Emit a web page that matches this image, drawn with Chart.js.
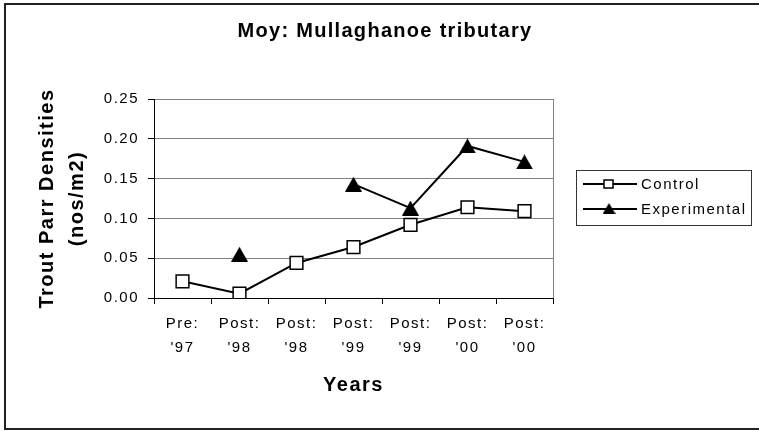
<!doctype html>
<html lang="en">
<head>
  <meta charset="utf-8" />
  <title>Moy: Mullaghanoe tributary</title>
  <script src="https://cdn.jsdelivr.net/npm/chart.js@4.4.3/dist/chart.umd.min.js"></script>
  <style>
    html, body {
      margin: 0;
      padding: 0;
      background: #fff;
    }
    #wrap {
      width: 759px;
      height: 431px;
    }
  </style>
</head>
<body>
  <div id="wrap"><canvas id="chart" width="759" height="431"></canvas></div>
  <script>
    const chartTitle = "Moy: Mullaghanoe tributary";
    const yTitle = ["Trout Parr Densities", "(nos/m2)"];
    const xTitle = "Years";
    const categories = [
      ["Pre:", "'97"],
      ["Post:", "'98"],
      ["Post:", "'98"],
      ["Post:", "'99"],
      ["Post:", "'99"],
      ["Post:", "'00"],
      ["Post:", "'00"],
    ];
    const seriesNames = ["Control", "Experimental"];
    const control = [0.021, 0.0055, 0.044, 0.064, 0.092, 0.114, 0.109];
    const experimental = [null, 0.055, null, 0.143, 0.113, 0.191, 0.171];
    const yMin = 0;
    const yMax = 0.25;
    const yStep = 0.05;

    const FONT = "'Liberation Sans', Arial, sans-serif";

    function triangleMarker(w, h) {
      const c = document.createElement("canvas");
      c.width = w;
      c.height = h;
      const g = c.getContext("2d");
      g.fillStyle = "#000";
      g.beginPath();
      g.moveTo(w / 2, 0);
      g.lineTo(w, h);
      g.lineTo(0, h);
      g.closePath();
      g.fill();
      return c;
    }

    const bigTriangle = triangleMarker(17, 15);
    const smallTriangle = triangleMarker(13, 11);

    // whole-picture frame, title, legend and the grey right edge of the plot
    const decorations = {
      id: "decorations",
      beforeDraw(chart) {
        chart.ctx.letterSpacing = "1.5px";
      },
      beforeDatasetsDraw(chart) {
        const { ctx, chartArea } = chart;
        ctx.save();
        ctx.strokeStyle = "#808080";
        ctx.lineWidth = 1;
        ctx.beginPath();
        ctx.moveTo(chartArea.right + 0.5, chartArea.top);
        ctx.lineTo(chartArea.right + 0.5, chartArea.bottom);
        ctx.stroke();
        ctx.restore();
      },
      afterDraw(chart) {
        const { ctx } = chart;
        ctx.save();
        ctx.strokeStyle = "#222";
        ctx.lineWidth = 2;
        ctx.strokeRect(5, 4, 800, 425);

        ctx.fillStyle = "#000";
        ctx.letterSpacing = "1.3px";
        ctx.font = "bold 20px " + FONT;
        ctx.textAlign = "center";
        ctx.textBaseline = "alphabetic";
        ctx.fillText(chartTitle, 385, 37);

        // legend
        ctx.strokeStyle = "#333";
        ctx.lineWidth = 1;
        ctx.strokeRect(576.5, 170.5, 175, 55);
        ctx.letterSpacing = "1.5px";
        ctx.font = "15px " + FONT;
        ctx.textAlign = "left";
        ctx.textBaseline = "middle";
        seriesNames.forEach((name, i) => {
          const y = 184 + i * 25;
          ctx.strokeStyle = "#000";
          ctx.lineWidth = 2;
          ctx.beginPath();
          ctx.moveTo(583, y);
          ctx.lineTo(637, y);
          ctx.stroke();
          if (i === 0) {
            ctx.fillStyle = "#fff";
            ctx.fillRect(604, y - 4, 9, 8);
            ctx.lineWidth = 1.5;
            ctx.strokeRect(604, y - 4, 9, 8);
          } else {
            ctx.drawImage(smallTriangle, 609 - 6.5, y - 6);
          }
          ctx.fillStyle = "#000";
          ctx.fillText(name, 641, y + 1);
        });
        ctx.restore();
      },
    };

    new Chart(document.getElementById("chart"), {
      type: "line",
      data: {
        labels: categories,
        datasets: [
          {
            label: seriesNames[0],
            data: control,
            order: 2,
            borderColor: "#000",
            borderWidth: 2,
            pointStyle: "rect",
            pointRadius: 9,
            pointBorderWidth: 1.5,
            pointBackgroundColor: "#fff",
            pointBorderColor: "#000",
            tension: 0,
          },
          {
            label: seriesNames[1],
            data: experimental,
            order: 1,
            spanGaps: false,
            borderColor: "#000",
            borderWidth: 2,
            pointStyle: bigTriangle,
            pointRadius: 9,
            tension: 0,
          },
        ],
      },
      options: {
        responsive: false,
        animation: false,
        devicePixelRatio: 1,
        layout: { padding: { left: 0, right: 206, top: 99, bottom: 0 } },
        plugins: {
          legend: { display: false },
          title: { display: false },
          tooltip: { enabled: false },
        },
        scales: {
          x: {
            type: "category",
            offset: true,
            afterFit(scale) {
              scale.height = 133;
            },
            grid: {
              display: true,
              offset: true,
              drawOnChartArea: false,
              drawTicks: true,
              tickLength: 6,
              tickColor: "#000",
              color: "#000",
            },
            border: { display: true, color: "#000", width: 1 },
            ticks: {
              color: "#000",
              autoSkip: false,
              maxRotation: 0,
              minRotation: 0,
              padding: 8,
              font: { family: FONT, size: 15, lineHeight: "24px" },
            },
            title: {
              display: true,
              text: xTitle,
              color: "#000",
              padding: { top: 0, bottom: 34 },
              font: { family: FONT, size: 20, weight: "bold", lineHeight: 1.2 },
            },
          },
          y: {
            min: yMin,
            max: yMax,
            afterFit(scale) {
              scale.width = 154;
            },
            grid: {
              color: "#808080",
              lineWidth: 1,
              tickLength: 6,
              tickColor: "#000",
            },
            border: { display: true, color: "#000", width: 1 },
            ticks: {
              stepSize: yStep,
              color: "#000",
              padding: 9,
              font: { family: FONT, size: 15 },
              callback: (v) => Number(v).toFixed(2),
            },
            title: {
              display: true,
              text: yTitle,
              color: "#000",
              padding: { top: 32, bottom: 0 },
              font: { family: FONT, size: 20, weight: "bold", lineHeight: "30px" },
            },
          },
        },
      },
      plugins: [decorations],
    });
  </script>
</body>
</html>
